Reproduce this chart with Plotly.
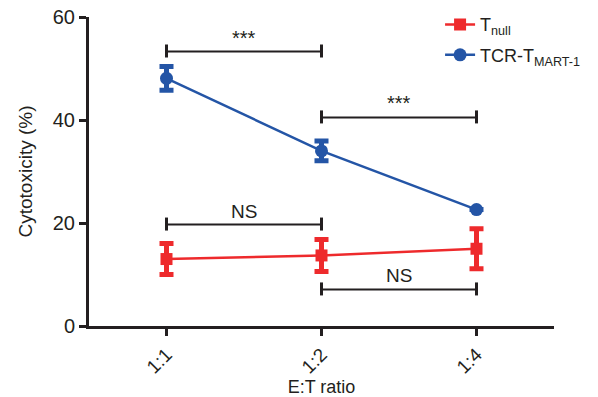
import plotly.graph_objects as go

# E:T ratio categories
ratios = ["1:1", "1:2", "1:4"]

# Cytotoxicity (%) mean and error for each group
tnull_mean = [13.0, 13.7, 15.0]
tnull_err = [3.0, 3.1, 3.9]
tcr_mean = [48.1, 34.0, 22.6]
tcr_err = [2.3, 1.9, 0.0]

# Significance brackets: (start, end, level, label)
bracket_start = ["1:1", "1:2", "1:1", "1:2"]
bracket_end = ["1:2", "1:4", "1:2", "1:4"]
bracket_level = [53.3, 40.5, 19.7, 7.1]
bracket_label = ["***", "***", "NS", "NS"]

RED = "#EE2A2C"
BLUE = "#2455A6"
INK = "#231F20"
FONT = "Liberation Sans, Arial, sans-serif"

fig = go.Figure()

fig.add_trace(go.Scatter(
    x=ratios, y=tnull_mean, name="T<sub>null</sub>", mode="lines+markers",
    legendgroup="a",
    line=dict(color=RED, width=2.5),
    marker=dict(symbol="square", size=12, color=RED),
    error_y=dict(type="data", array=tnull_err, color=RED, thickness=5, width=7),
))
fig.add_trace(go.Scatter(
    x=ratios, y=tcr_mean, name="TCR-T<sub>MART-1</sub>", mode="lines+markers",
    legendgroup="b",
    line=dict(color=BLUE, width=2.5),
    marker=dict(symbol="circle", size=13, color=BLUE),
    error_y=dict(type="data", array=tcr_err, color=BLUE, thickness=5, width=7),
))

for x0, x1, lvl, lab in zip(bracket_start, bracket_end, bracket_level, bracket_label):
    fig.add_shape(type="line", xref="x", yref="y", x0=x0, x1=x1, y0=lvl, y1=lvl,
                  line=dict(color=INK, width=2))
    for xe in (x0, x1):
        fig.add_shape(type="line", xref="x", yref="y", x0=xe, x1=xe,
                      ysizemode="pixel", yanchor=lvl, y0=-6, y1=7,
                      line=dict(color=INK, width=3))
    idx0, idx1 = ratios.index(x0), ratios.index(x1)
    fig.add_annotation(x=(idx0 + idx1) / 2, y=lvl, xref="x", yref="y",
                       text=lab, showarrow=False, yanchor="bottom", yshift=1,
                       font=dict(family=FONT, size=19 if lab == "NS" else 20, color=INK))

fig.update_layout(
    width=598, height=397,
    margin=dict(l=89, r=44, t=17, b=71, autoexpand=False),
    paper_bgcolor="white", plot_bgcolor="white",
    font=dict(family=FONT, color=INK, size=18),
    showlegend=True,
    legend=dict(x=0.755, y=1.035, xanchor="left", yanchor="top",
                bgcolor="rgba(0,0,0,0)", font=dict(size=18, color=INK),
                itemwidth=30, tracegroupgap=4),
    xaxis=dict(
        type="category", range=[-0.5, 2.5],
        showline=True, linecolor=INK, linewidth=3,
        ticks="outside", ticklen=7, tickwidth=3, tickcolor=INK,
        tickangle=-45, tickfont=dict(size=19, color=INK),
        showgrid=False, zeroline=False,
        title=dict(text="E:T ratio", font=dict(size=18, color=INK), standoff=6),
    ),
    yaxis=dict(
        range=[0, 60], tickvals=[0, 20, 40, 60],
        showline=True, linecolor=INK, linewidth=3,
        ticks="outside", ticklen=7, tickwidth=3, tickcolor=INK,
        tickfont=dict(size=20, color=INK),
        showgrid=False, zeroline=False,
        title=dict(text="Cytotoxicity (%)", font=dict(size=19, color=INK), standoff=16),
    ),
)

fig.write_html("out.html")
